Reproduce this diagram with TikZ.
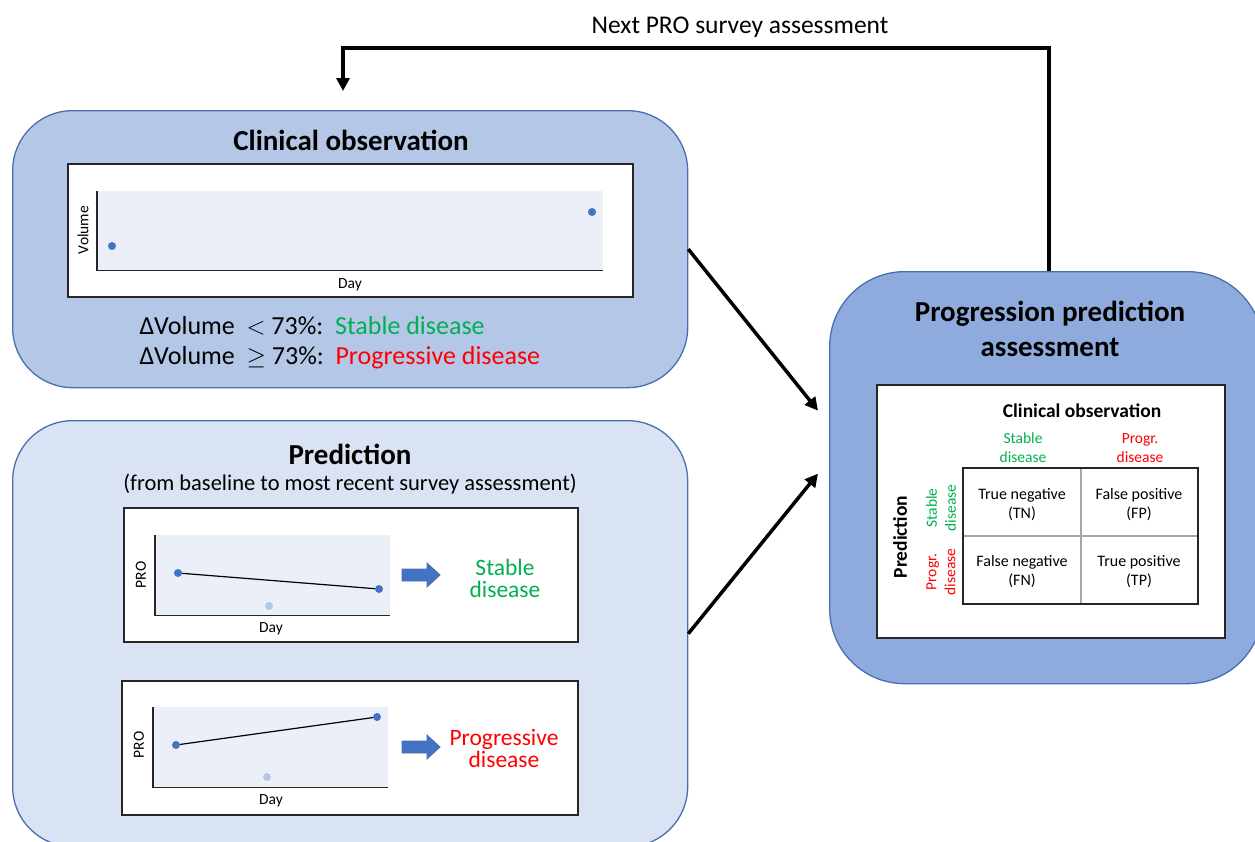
\documentclass[tikz,border=0pt]{standalone}
\usepackage{fontspec}
\setmainfont{Carlito}
\usetikzlibrary{arrows.meta,calc}
\definecolor{clinfill}{HTML}{B4C7E7}
\definecolor{predfill}{HTML}{DAE3F3}
\definecolor{progfill}{HTML}{8FAADC}
\definecolor{boxedge}{HTML}{4A6FB0}
\definecolor{plotbg}{HTML}{EAEFF8}
\definecolor{dotblue}{HTML}{4472C4}
\definecolor{dotlight}{HTML}{B4C7E7}
\definecolor{okgreen}{HTML}{00B050}
\definecolor{badred}{HTML}{FF0000}
\definecolor{gridgray}{HTML}{A6A6A6}
\tikzset{
  bigbox/.style={draw=boxedge, line width=1.3pt, inner sep=0pt},
  chartbox/.style={draw=black!85, line width=1.6pt, fill=white, inner sep=0pt},
  plotarea/.style={fill=plotbg, draw=none, inner sep=0pt},
  axisline/.style={draw=black!85, line width=1.4pt},
  flow/.style={line width=3.5pt, -{Triangle[length=13pt,width=13pt]}},
  dot/.style={circle, fill=dotblue, inner sep=0pt, minimum size=8pt},
  ldot/.style={circle, fill=dotlight, inner sep=0pt, minimum size=8pt},
  title/.style={font=\fontsize{29}{33}\selectfont\bfseries, align=center},
  axlabel/.style={font=\fontsize{15.5}{18}\selectfont},
  outcome/.style={font=\fontsize{23.5}{22}\selectfont, align=center},
  cell/.style={font=\fontsize{16}{19}\selectfont, align=center},
  collabel/.style={font=\fontsize{15.5}{19}\selectfont, align=center},
  rule/.style={font=\fontsize{26}{30}\selectfont, anchor=west},
  blockarrow/.style={fill=dotblue, draw=boxedge, line width=0.8pt},
}
\begin{document}
\begin{tikzpicture}[x=1pt,y=-1pt]
\useasboundingbox (0,0) rectangle (1255,841);
\clip (0,0) rectangle (1255,841);
\fill[white] (0,0) rectangle (1255,841);

% ---------- big boxes ----------
\node[bigbox, fill=clinfill, rounded corners=60pt, minimum width=675pt, minimum height=277pt, anchor=north west] (clin) at (12,110) {};
\node[bigbox, fill=predfill, rounded corners=60pt, minimum width=675pt, minimum height=426pt, anchor=north west] (pred) at (12,420) {};
\node[bigbox, fill=progfill, rounded corners=75pt, minimum width=433pt, minimum height=412pt, anchor=north west] (prog) at (829,271) {};

% ---------- feedback ----------
\node[font=\fontsize{25.5}{30}\selectfont] (next) at (740,27) {Next PRO survey assessment};
\coordinate (fbend) at (343,91);
\draw[flow] ($(prog.north)+(3,0)$) |- (fbend |- 0,48) -- (fbend);

% ---------- clinical observation ----------
\node[title] (ctitle) at (351,140) {Clinical observation};
\node[chartbox, minimum width=565pt, minimum height=133pt, anchor=north west] (cchart) at (67,163) {};
\node[plotarea, minimum width=506pt, minimum height=79pt, anchor=north west] (cplot) at (97,191) {};
\draw[axisline] (cplot.north west) -- (cplot.south west) -- (cplot.south east);
\node[axlabel, rotate=90] (cvol) at (83,230) {Volume};
\node[axlabel] (cday) at (350,285) {Day};
\node[dot] (cd1) at (112,246) {};
\node[dot] (cd2) at (592,212) {};
\node[rule] (rule1) at (136,326) {ΔVolume\ \ $<$ 73\%:\ \ \textcolor{okgreen}{Stable disease}};
\node[rule] (rule2) at (136,358) {ΔVolume\ \ $\geq$ 73\%:\ \ \textcolor{badred}{Progressive disease}};

% ---------- prediction ----------
\node[title] (ptitle) at (350,454) {Prediction};
\node[font=\fontsize{22.5}{26}\selectfont] (psub) at (350,484) {(from baseline to most recent survey assessment)};

% chart 1
\node[chartbox, minimum width=454pt, minimum height=134pt, anchor=north west] (p1chart) at (123,507) {};
\node[plotarea, minimum width=235pt, minimum height=80pt, anchor=north west] (p1plot) at (155,535) {};
\draw[axisline] (p1plot.north west) -- (p1plot.south west) -- (p1plot.south east);
\node[axlabel, rotate=90] (p1pro) at (141,575) {PRO};
\node[axlabel] (p1day) at (271,629) {Day};
\node[ldot] (p1c) at (269,606) {};
\node[dot] (p1a) at (178,573) {};
\node[dot] (p1b) at (379,589) {};
\draw[line width=1.2pt] (p1a) -- (p1b);
\draw[blockarrow] (402,569) -- (427,569) -- (427,563) -- (440,575) -- (427,587) -- (427,581) -- (402,581) -- cycle;
\node[outcome, text=okgreen] (p1out) at (505,578) {Stable\\disease};

% chart 2
\node[chartbox, minimum width=456pt, minimum height=134pt, anchor=north west] (p2chart) at (121,680) {};
\node[plotarea, minimum width=235pt, minimum height=80pt, anchor=north west] (p2plot) at (153,707) {};
\draw[axisline] (p2plot.north west) -- (p2plot.south west) -- (p2plot.south east);
\node[axlabel, rotate=90] (p2pro) at (139,745) {PRO};
\node[axlabel] (p2day) at (271,801) {Day};
\node[ldot] (p2c) at (267,777) {};
\node[dot] (p2a) at (176,745) {};
\node[dot] (p2b) at (377,717) {};
\draw[line width=1.2pt] (p2a) -- (p2b);
\draw[blockarrow] (402,741) -- (427,741) -- (427,735) -- (440,747) -- (427,759) -- (427,753) -- (402,753) -- cycle;
\node[outcome, text=badred] (p2out) at (504,748) {Progressive\\disease};

% ---------- progression prediction assessment ----------
\node[title, font=\fontsize{29}{35}\selectfont\bfseries] (gtitle) at (1050,329) {Progression prediction\\assessment};
\node[chartbox, minimum width=348pt, minimum height=253pt, anchor=north west] (mbox) at (876,384) {};
\node[font=\fontsize{19.5}{22}\selectfont\bfseries] (mhead) at (1082,411) {Clinical observation};
\node[collabel, text=okgreen] (mcs) at (1023,448) {Stable\\disease};
\node[collabel, text=badred] (mcp) at (1140,448) {Progr.\\disease};
\node[font=\fontsize{19.5}{22}\selectfont\bfseries, rotate=90] (mrowhead) at (900,537) {Prediction};
\node[collabel, text=okgreen, rotate=90] (mrs) at (941,508) {Stable\\disease};
\node[collabel, text=badred, rotate=90] (mrp) at (941,572) {Progr.\\disease};
\coordinate (mnw) at (963,468);
\coordinate (mse) at (1198,604);
\draw[gridgray, line width=1.2pt] (1081,468) -- (1081,604) (963,536) -- (1198,536);
\draw[black!85, line width=1.5pt] (mnw) rectangle (mse);
\node[cell] (tn) at (1022,505) {True negative\\(TN)};
\node[cell] (fp) at (1139,505) {False positive\\(FP)};
\node[cell] (fn) at (1022,572) {False negative\\(FN)};
\node[cell] (tp) at (1139,572) {True positive\\(TP)};

% ---------- connectors ----------
\draw[flow] (clin.east) -- ($(prog.west)+(-11,-67)$);
\draw[flow] (pred.east) -- ($(prog.west)+(-11,-4)$);
\end{tikzpicture}
\end{document}
